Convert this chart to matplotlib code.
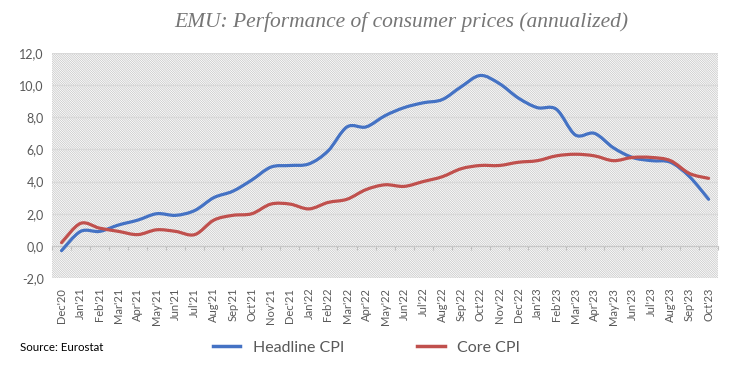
import numpy as np
import matplotlib
matplotlib.use("Agg")
from matplotlib import pyplot as plt
from matplotlib.path import Path
from matplotlib.patches import PathPatch, Rectangle
from matplotlib.lines import Line2D

# data (annual % change)
months = ["Dec'20", "Jan'21", "Feb'21", "Mar'21", "Apr'21", "May'21", "Jun'21",
          "Jul'21", "Aug'21", "Sep'21", "Oct'21", "Nov'21", "Dec'21", "Jan'22",
          "Feb'22", "Mar'22", "Apr'22", "May'22", "Jun'22", "Jul'22", "Aug'22",
          "Sep'22", "Oct'22", "Nov'22", "Dec'22", "Jan'23", "Feb'23", "Mar'23",
          "Apr'23", "May'23", "Jun'23", "Jul'23", "Aug'23", "Sep'23", "Oct'23"]
headline = [-0.3, 0.9, 0.9, 1.3, 1.6, 2.0, 1.9, 2.2, 3.0, 3.4, 4.1, 4.9, 5.0, 5.1,
            5.9, 7.4, 7.4, 8.1, 8.6, 8.9, 9.1, 9.9, 10.6, 10.1, 9.2, 8.6, 8.5, 6.9,
            7.0, 6.1, 5.5, 5.3, 5.2, 4.3, 2.9]
core = [0.2, 1.4, 1.1, 0.9, 0.7, 1.0, 0.9, 0.7, 1.6, 1.9, 2.0, 2.6, 2.6, 2.3,
        2.7, 2.9, 3.5, 3.8, 3.7, 4.0, 4.3, 4.8, 5.0, 5.0, 5.2, 5.3, 5.6, 5.7,
        5.6, 5.3, 5.5, 5.5, 5.3, 4.5, 4.2]
series = [("Headline CPI", headline, "#4472c4"), ("Core CPI", core, "#c0504d")]

GREY = "#595959"
plt.rcParams["hatch.linewidth"] = 0.5
plt.rcParams["hatch.color"] = "#c4c4c4"


def smooth_path(x, y):
    # bezier curve through the points, like excel's "smoothed line"
    pts = np.column_stack([x, y]).astype(float)
    verts = [pts[0]]
    codes = [Path.MOVETO]
    n = len(pts)
    for i in range(n - 1):
        p0 = pts[max(i - 1, 0)]
        p1, p2 = pts[i], pts[i + 1]
        p3 = pts[min(i + 2, n - 1)]
        verts += [p1 + (p2 - p0) / 6, p2 - (p3 - p1) / 6, p2]
        codes += [Path.CURVE4] * 3
    return Path(verts, codes)


fig = plt.figure(figsize=(7.36, 3.69), dpi=100)
ax = fig.add_axes([0.0707, 0.2466, 0.905, 0.6098])

x = np.arange(len(months))
ax.set_xlim(-0.5, len(months) - 0.5)
ax.set_ylim(-2, 12)

ax.add_patch(Rectangle((0, 0), 1, 1, transform=ax.transAxes, facecolor="white",
                       edgecolor="#c4c4c4", hatch="\\" * 15, lw=0, zorder=0))
for v in np.arange(-2, 12.1, 2):
    ax.axhline(v, color="#d9d9d9", lw=1.0, zorder=1)

for name, vals, col in series:
    ax.add_patch(PathPatch(smooth_path(x, vals), fill=False, edgecolor=col,
                           lw=2.3, capstyle="round", joinstyle="round", zorder=3))

for s in ax.spines.values():
    s.set_visible(False)
ax.set_yticks(np.arange(-2, 12.1, 2))
ax.set_yticklabels([f"{v:.1f}".replace(".", ",") for v in np.arange(-2, 12.1, 2)])
ax.set_xticks(x)
ax.set_xticklabels(months, rotation=90)
ax.tick_params(axis="both", length=0, colors=GREY, labelsize=8)
ax.tick_params(axis="x", pad=7)
ax.tick_params(axis="y", pad=6, labelsize=9)
for lab in ax.get_xticklabels() + ax.get_yticklabels():
    lab.set_family("Lato")

# category axis with tick marks crossing at zero
sec = ax.secondary_xaxis(2 / 14)
sec.set_zorder(2)
sec.set_xticks(np.arange(-0.5, len(months)))
sec.tick_params(axis="x", which="both", bottom=True, top=False, direction="out",
                length=3, width=0.8, color="#c0c0c0",
                labelbottom=False, labeltop=False)
for side in ("top", "bottom"):
    sec.spines[side].set_color("#c8c8c8")

fig.text(0.545, 0.94, "EMU: Performance of consumer prices (annualized)",
         ha="center", va="center", fontsize=15.5, style="italic",
         family="Liberation Serif", color="#767676")
fig.text(0.027, 0.058, "Source: Eurostat", ha="left", va="center",
         fontsize=8.3, family="Lato", color="black")

handles = [Line2D([], [], color=c, lw=2.5) for _, _, c in series]
fig.legend(handles, [n for n, _, _ in series], loc="center",
           bbox_to_anchor=(0.498, 0.058), ncol=2, frameon=False,
           handlelength=1.7, columnspacing=4.6, handletextpad=0.8,
           prop={"family": "Lato", "size": 11.5}, labelcolor=GREY)

fig.savefig("out.png", dpi=100)
